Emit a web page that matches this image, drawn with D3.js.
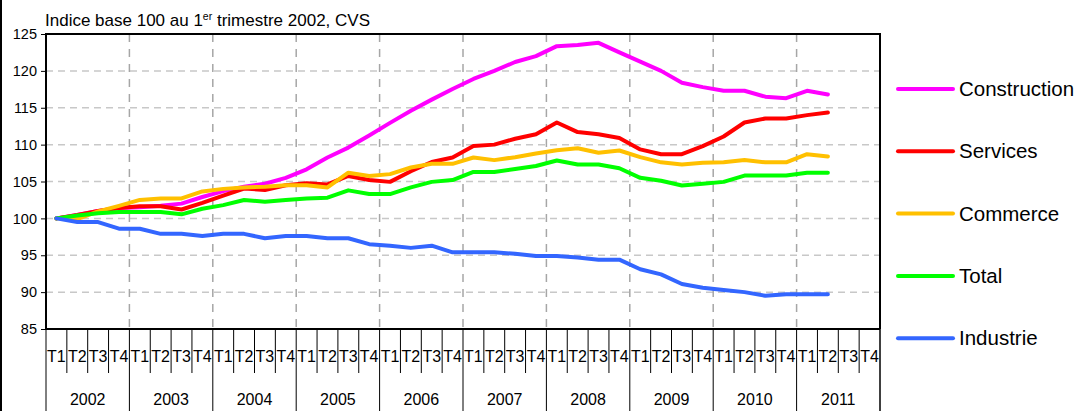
<!DOCTYPE html>
<html>
<head>
<meta charset="utf-8">
<script src="https://cdn.jsdelivr.net/npm/d3@7/dist/d3.min.js"></script>
<style>
  body { margin: 0; background: #ffffff; }
  text { font-family: "Liberation Sans", Arial, sans-serif; fill: #000; }
</style>
</head>
<body>
<div id="chart"></div>
<script>
// quarters and years on the x axis
var years = ["2002", "2003", "2004", "2005", "2006", "2007", "2008", "2009", "2010", "2011"];
var quarters = ["T1", "T2", "T3", "T4"];
var yTicks = [85, 90, 95, 100, 105, 110, 115, 120, 125];

// index base 100 au T1 2002, from T1 2002 to T2 2011
var construction = [100, 100.45, 101.0, 101.4, 101.5, 101.7, 102.0, 102.9, 103.7, 104.3,
                    104.7, 105.5, 106.65, 108.25, 109.6, 111.25, 112.95, 114.6, 116.1, 117.55,
                    118.9, 120.0, 121.2, 122.0, 123.35, 123.5, 123.8, 122.5, 121.25, 120.0,
                    118.4, 117.8, 117.3, 117.3, 116.5, 116.3, 117.3, 116.8];
var services = [100, 100.45, 101.0, 101.4, 101.65, 101.65, 101.2, 102.1, 103.1, 104.05,
                103.85, 104.5, 104.75, 104.6, 105.75, 105.2, 104.95, 106.4, 107.65, 108.25,
                109.8, 110.0, 110.8, 111.4, 113.0, 111.7, 111.4, 110.9, 109.35, 108.7,
                108.7, 109.8, 111.1, 113.0, 113.55, 113.55, 114.0, 114.35];
var commerce = [100, 99.9, 100.95, 101.7, 102.5, 102.7, 102.7, 103.65, 104.0, 104.2,
                104.3, 104.5, 104.5, 104.2, 106.2, 105.75, 106.0, 106.9, 107.4, 107.4,
                108.25, 107.9, 108.3, 108.8, 109.25, 109.5, 108.9, 109.2, 108.3, 107.6,
                107.3, 107.55, 107.6, 107.9, 107.6, 107.6, 108.7, 108.4];
var total = [100, 100.4, 100.7, 100.85, 100.85, 100.85, 100.55, 101.3, 101.8, 102.5,
             102.25, 102.5, 102.7, 102.8, 103.8, 103.3, 103.3, 104.2, 104.95, 105.2,
             106.3, 106.3, 106.7, 107.1, 107.85, 107.3, 107.3, 106.8, 105.5, 105.1,
             104.45, 104.7, 104.95, 105.8, 105.8, 105.8, 106.2, 106.2];
var industrie = [100, 99.5, 99.5, 98.6, 98.6, 97.9, 97.9, 97.6, 97.9, 97.9,
                 97.3, 97.6, 97.6, 97.3, 97.3, 96.5, 96.3, 96.0, 96.3, 95.4,
                 95.4, 95.4, 95.2, 94.9, 94.9, 94.7, 94.4, 94.4, 93.1, 92.4,
                 91.1, 90.6, 90.3, 90.0, 89.5, 89.7, 89.7, 89.7];

var seriesNames = ["Construction", "Services", "Commerce", "Total", "Industrie"];
var seriesValues = [construction, services, commerce, total, industrie];
var seriesColors = ["#ff00ff", "#ff0000", "#ffc000", "#00ff00", "#3366ff"];

var width = 1078, height = 411;
var plot = {left: 46, right: 880, top: 34, bottom: 329};

var svg = d3.select("#chart")
            .append("svg")
              .attr("width", width)
              .attr("height", height);

var keys = [];
years.forEach(function(yr) {
  quarters.forEach(function(q) { keys.push(yr + "-" + q); });
});

//scales
var x = d3.scaleBand().domain(keys).range([plot.left, plot.right]);
var y = d3.scaleLinear().domain([85, 125]).range([plot.bottom, plot.top]);

// outer frame edge on the left
svg.append("line")
   .attr("x1", 1).attr("x2", 1).attr("y1", 0).attr("y2", height)
   .attr("stroke", "#000").attr("stroke-width", 2);

// horizontal grid
svg.append("g").selectAll("line")
   .data(yTicks.filter(function(d) { return d > 85 && d < 125; }))
   .enter().append("line")
     .attr("x1", plot.left).attr("x2", plot.right)
     .attr("y1", d => y(d)).attr("y2", d => y(d))
     .attr("stroke", "#c8c8c8")
     .attr("stroke-width", 1.5)
     .attr("stroke-dasharray", "7,5");

// vertical grid at year starts
svg.append("g").selectAll("line")
   .data(years.slice(1))
   .enter().append("line")
     .attr("x1", d => x(d + "-T1")).attr("x2", d => x(d + "-T1"))
     .attr("y1", plot.top).attr("y2", plot.bottom)
     .attr("stroke", "#a6a6a6")
     .attr("stroke-width", 1.5)
     .attr("stroke-dasharray", "8,7");

// y axis
var yAxis = svg.append("g")
               .attr("transform", "translate(" + plot.left + ",0)")
               .call(d3.axisLeft(y).tickValues(yTicks).tickSize(5).tickPadding(4));
yAxis.select(".domain").remove();
yAxis.selectAll("line").attr("stroke", "#000");
yAxis.selectAll("text").attr("font-size", "14.5px").attr("font-family", null);

// lines
var line = d3.line()
             .x((d, i) => x(keys[i]) + x.bandwidth() / 2)
             .y(d => y(d));

svg.append("g").selectAll("path")
   .data(seriesValues)
   .enter().append("path")
     .attr("d", d => line(d))
     .attr("fill", "none")
     .attr("stroke", (d, i) => seriesColors[i])
     .attr("stroke-width", 4)
     .attr("stroke-linejoin", "round")
     .attr("stroke-linecap", "round");

// plot border (left, top, right) and x axis
svg.append("path")
   .attr("d", "M" + plot.left + "," + plot.bottom + "V" + plot.top + "H" + plot.right + "V" + plot.bottom)
   .attr("fill", "none")
   .attr("stroke", "#000")
   .attr("stroke-width", 2);
svg.append("line")
   .attr("x1", plot.left).attr("x2", plot.right)
   .attr("y1", plot.bottom).attr("y2", plot.bottom)
   .attr("stroke", "#000").attr("stroke-width", 2);

// x axis as a two-row table
var xTable = svg.append("g");
xTable.selectAll("line.q")
   .data(keys)
   .enter().append("line")
     .attr("class", "q")
     .attr("x1", d => x(d)).attr("x2", d => x(d))
     .attr("y1", plot.bottom)
     .attr("y2", d => d.slice(-2) == "T1" ? height : 373)
     .attr("stroke", "#000").attr("stroke-width", 1);
xTable.append("line")
   .attr("x1", plot.right).attr("x2", plot.right)
   .attr("y1", plot.bottom).attr("y2", height)
   .attr("stroke", "#000").attr("stroke-width", 1.5);

xTable.selectAll("text.q")
   .data(keys)
   .enter().append("text")
     .attr("class", "q")
     .attr("x", d => x(d) + x.bandwidth() / 2)
     .attr("y", 356)
     .attr("dy", "0.35em")
     .attr("text-anchor", "middle")
     .attr("font-size", "16px")
     .text(d => d.slice(-2));

xTable.selectAll("text.yr")
   .data(years)
   .enter().append("text")
     .attr("class", "yr")
     .attr("x", d => x(d + "-T1") + 2 * x.bandwidth())
     .attr("y", 399)
     .attr("dy", "0.35em")
     .attr("text-anchor", "middle")
     .attr("font-size", "16px")
     .text(d => d);

// title
var title = svg.append("text")
               .attr("x", 45)
               .attr("y", 26)
               .attr("font-size", "17px");
title.append("tspan").text("Indice base 100 au 1");
title.append("tspan").attr("font-size", "10.5px").attr("dy", "-6").text("er");
title.append("tspan").attr("dy", "6").text(" trimestre 2002, CVS");

// legend
var legend = svg.append("g").selectAll("g")
                .data(seriesNames)
                .enter().append("g")
                  .attr("transform", (d, i) => "translate(898," + (89 + i * 62.3) + ")");
legend.append("line")
      .attr("x1", 0).attr("x2", 55)
      .attr("stroke", (d, i) => seriesColors[i])
      .attr("stroke-width", 4)
      .attr("stroke-linecap", "round");
legend.append("text")
      .attr("x", 61)
      .attr("dy", "0.35em")
      .attr("font-size", "20.5px")
      .text(d => d);
</script>
</body>
</html>
